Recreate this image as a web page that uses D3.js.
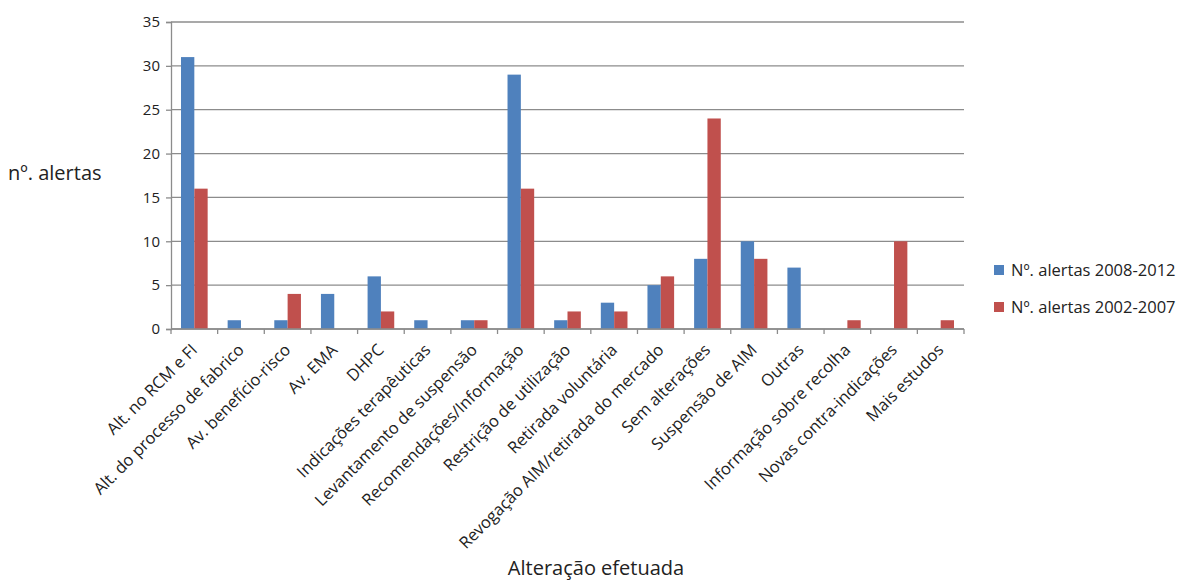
<!DOCTYPE html>
<html>
<head>
<meta charset="utf-8">
<script src="https://cdn.jsdelivr.net/npm/d3@7"></script>
<style>
  body { margin: 0; background: #fff; }
  text { font-family: "Open Sans", sans-serif; fill: #222; }
</style>
</head>
<body>
<div id="chart"></div>
<script>
// data
var categories = ["Alt. no RCM e FI", "Alt. do processo de fabrico", "Av. benefício-risco", "Av. EMA", "DHPC",
    "Indicações terapêuticas", "Levantamento de suspensão", "Recomendações/Informação", "Restrição de utilização",
    "Retirada voluntária", "Revogação AIM/retirada do mercado", "Sem alterações", "Suspensão de AIM", "Outras",
    "Informação sobre recolha", "Novas contra-indicações", "Mais estudos"];
var alerts0812 = [31, 1, 1, 4, 6, 1, 1, 29, 1, 3, 5, 8, 10, 7, 0, 0, 0];
var alerts0207 = [16, 0, 4, 0, 2, 0, 1, 16, 2, 2, 6, 24, 8, 0, 1, 10, 1];
var seriesNames = ["Nº. alertas 2008-2012", "Nº. alertas 2002-2007"];
var yTicks = [0, 5, 10, 15, 20, 25, 30, 35];

var colors = ["#4f81bd", "#c0504d"];
var W = 1185, H = 582;
var mLeft = 171, mRight = 964, mTop = 22, mBottom = 329;

var svg = d3.select("#chart").append("svg").attr("width", W).attr("height", H);

var x = d3.scaleBand().domain(categories).range([mLeft, mRight]).paddingInner(0).paddingOuter(0);
// gap width 150% -> two bars fill 2/3.5 of each slot
var x1 = d3.scaleBand().domain([0, 1]).range([0, x.bandwidth()]).paddingOuter(0.75).paddingInner(0);
var y = d3.scaleLinear().domain([0, 35]).range([mBottom, mTop]);

// grid lines
svg.append("g").selectAll("line").data(yTicks).enter().append("line")
    .attr("x1", mLeft).attr("x2", mRight)
    .attr("y1", function (d) { return y(d) }).attr("y2", function (d) { return y(d) })
    .attr("stroke", "#8c8c8c").attr("stroke-width", 1.3);

// y axis
var yAxis = svg.append("g").attr("transform", "translate(" + mLeft + ",0)")
    .call(d3.axisLeft(y).tickValues(yTicks).tickSize(5).tickPadding(6));
yAxis.select(".domain").attr("stroke", "#8c8c8c").attr("stroke-width", 1.3);
yAxis.selectAll(".tick line").attr("stroke", "#8c8c8c").attr("stroke-width", 1.3);
yAxis.selectAll(".tick text").attr("font-size", 15).attr("font-family", "\"DejaVu Sans\", sans-serif").attr("fill", "#222");

// bars
var series = [alerts0812, alerts0207];
series.forEach(function (vals, s) {
    svg.append("g").selectAll("rect").data(vals).enter().append("rect")
        .attr("x", function (d, i) { return x(categories[i]) + x1(s) })
        .attr("width", x1.bandwidth())
        .attr("y", function (d) { return y(d) })
        .attr("height", function (d) { return mBottom - y(d) })
        .attr("fill", colors[s]);
});

// x axis line + ticks at category boundaries
var xg = svg.append("g");
xg.append("line").attr("x1", mLeft).attr("x2", mRight).attr("y1", mBottom).attr("y2", mBottom)
    .attr("stroke", "#8c8c8c").attr("stroke-width", 1.3);
var bounds = categories.map(function (c) { return x(c) }).concat([mRight]);
xg.selectAll("line.tk").data(bounds).enter().append("line").attr("class", "tk")
    .attr("x1", function (d) { return d }).attr("x2", function (d) { return d })
    .attr("y1", mBottom).attr("y2", mBottom + 5)
    .attr("stroke", "#8c8c8c").attr("stroke-width", 1.3);

// rotated category labels
xg.selectAll("text").data(categories).enter().append("text")
    .attr("text-anchor", "end")
    .attr("font-size", 16.5)
    .attr("transform", function (d) {
        var cx = x(d) + x.bandwidth() / 2 + 4;
        return "translate(" + cx + "," + (mBottom + 22) + ") rotate(-45)";
    })
    .text(function (d) { return d });

// axis titles
svg.append("text").attr("x", 8).attr("y", 180).attr("font-size", 20).text("nº. alertas");
svg.append("text").attr("x", 596).attr("y", 575).attr("text-anchor", "middle").attr("font-size", 20).text("Alteração efetuada");

// legend
var lg = svg.append("g").selectAll("g").data(seriesNames).enter().append("g")
    .attr("transform", function (d, i) { return "translate(994," + (265 + i * 37) + ")" });
lg.append("rect").attr("width", 10).attr("height", 10).attr("fill", function (d, i) { return colors[i] });
lg.append("text").attr("x", 17).attr("y", 11).attr("font-size", 16.5).text(function (d) { return d });
</script>
</body>
</html>
